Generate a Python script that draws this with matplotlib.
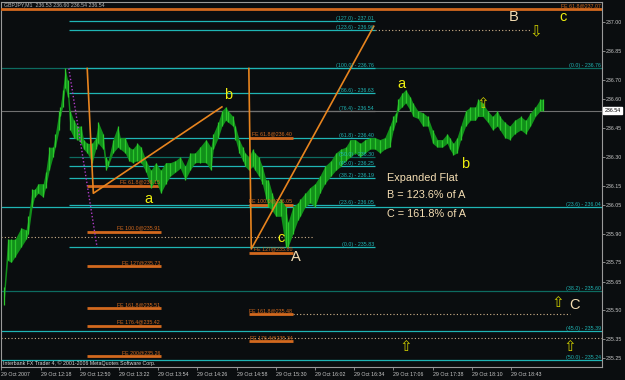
import matplotlib
matplotlib.use('Agg')
import matplotlib.pyplot as plt
import matplotlib.transforms as mtransforms

plt.rcParams['font.family'] = ['Liberation Sans', 'DejaVu Sans']

# GBPJPY M1, minutes after 11:46 on 29 Oct 2007
bar_min = [2, 5, 8, 11, 16, 20, 22, 25, 27, 30, 34, 36, 39, 42, 44, 47, 48, 50, 52, 54,
           56, 59, 62, 65, 67, 70, 74, 77, 79, 83, 85, 87, 91, 95, 97, 101, 104, 107, 111, 114,
           118, 122, 126, 130, 134, 138, 142, 146, 150, 154, 158, 162, 167, 171, 173, 177, 180, 183, 185, 189,
           191, 194, 197, 199, 202, 205, 207, 210, 213, 216, 218, 221, 224, 228, 232, 234, 238, 242, 244, 248,
           252, 256, 260, 264, 269, 273, 277, 281, 285, 289, 293, 297, 301, 305, 309, 313, 317, 320, 322, 324,
           327, 330, 334, 336, 340, 344, 348, 352, 356, 360, 364, 366, 369, 372, 375, 379, 383, 387, 389, 393,
           397, 401, 405, 407, 411, 415, 419, 424, 428, 432, 436, 440, 442]
bar_high = [235.62, 235.87, 235.87, 235.87, 235.93, 235.92, 235.99, 236.13, 236.13, 236.16, 236.16, 236.22, 236.35, 236.35, 236.42, 236.54, 236.56, 236.65, 236.76, 236.70,
            236.54, 236.49, 236.46, 236.46, 236.39, 236.37, 236.37, 236.40, 236.48, 236.42, 236.30, 236.28, 236.39, 236.46, 236.40, 236.40, 236.35, 236.34, 236.37, 236.35,
            236.28, 236.23, 236.27, 236.23, 236.27, 236.27, 236.28, 236.30, 236.25, 236.32, 236.32, 236.35, 236.39, 236.35, 236.42, 236.48, 236.54, 236.56, 236.54, 236.51,
            236.46, 236.39, 236.35, 236.32, 236.30, 236.34, 236.32, 236.30, 236.25, 236.18, 236.18, 236.11, 236.06, 236.08, 236.04, 235.96, 236.04, 236.06, 236.08, 236.11,
            236.14, 236.16, 236.20, 236.25, 236.28, 236.32, 236.34, 236.35, 236.39, 236.39, 236.37, 236.39, 236.40, 236.40, 236.39, 236.40, 236.46, 236.51, 236.53, 236.60,
            236.63, 236.65, 236.61, 236.58, 236.54, 236.53, 236.51, 236.44, 236.39, 236.39, 236.42, 236.40, 236.37, 236.40, 236.46, 236.54, 236.56, 236.56, 236.60, 236.58,
            236.54, 236.51, 236.54, 236.51, 236.48, 236.46, 236.49, 236.51, 236.49, 236.53, 236.56, 236.60, 236.60]
bar_low = [235.53, 235.76, 235.75, 235.78, 235.83, 235.87, 235.90, 236.04, 236.09, 236.11, 236.09, 236.14, 236.23, 236.30, 236.35, 236.44, 236.51, 236.56, 236.66, 236.61,
           236.44, 236.40, 236.39, 236.37, 236.34, 236.32, 236.27, 236.34, 236.37, 236.34, 236.23, 236.25, 236.32, 236.35, 236.34, 236.32, 236.28, 236.27, 236.28, 236.27,
           236.22, 236.14, 236.18, 236.11, 236.16, 236.20, 236.22, 236.24, 236.18, 236.23, 236.27, 236.27, 236.27, 236.23, 236.34, 236.40, 236.46, 236.49, 236.48, 236.46,
           236.39, 236.32, 236.28, 236.25, 236.23, 236.25, 236.23, 236.20, 236.16, 236.08, 236.04, 236.02, 235.99, 235.99, 235.83, 235.83, 235.90, 235.97, 235.99, 236.04,
           236.06, 236.04, 236.11, 236.16, 236.20, 236.23, 236.25, 236.28, 236.30, 236.32, 236.30, 236.32, 236.34, 236.34, 236.32, 236.34, 236.35, 236.44, 236.48, 236.54,
           236.56, 236.58, 236.54, 236.51, 236.50, 236.46, 236.46, 236.37, 236.35, 236.35, 236.37, 236.34, 236.31, 236.32, 236.39, 236.46, 236.49, 236.49, 236.51, 236.51,
           236.48, 236.44, 236.46, 236.44, 236.40, 236.39, 236.42, 236.44, 236.42, 236.46, 236.51, 236.54, 236.54]
bid = 236.54

# fibonacci retracement (left) and its extension (right)
fib_l_names = ['127.0', '123.6', '100.0', '86.6', '76.4', '61.8', '50.0', '45.0', '38.2', '23.6', '0.0']
fib_l_prices = [237.01, 236.96, 236.76, 236.63, 236.54, 236.40, 236.30, 236.25, 236.19, 236.05, 235.83]
fib_r_names = ['0.0', '23.6', '38.2', '45.0', '50.0']
fib_r_prices = [236.76, 236.04, 235.60, 235.39, 235.24]

# fibonacci expansions
fe1_names = ['61.8', '100.0', '127', '161.8', '176.4', '200']
fe1_prices = [236.15, 235.91, 235.73, 235.51, 235.42, 235.26]
fe2_names = ['61.8', '100.0', '127', '161.8', '176.4']
fe2_prices = [236.40, 236.05, 235.80, 235.48, 235.34]
fe_top_name, fe_top_price = '61.8', 237.07

# trend lines (time, price)
w1_t, w1_p = [70, 75, 180], [236.76, 236.11, 236.56]
w2_t, w2_p = [202, 204, 304], [236.76, 235.82, 236.98]
purple_t, purple_p = [55, 78], [236.76, 235.83]

time_ticks = [0, 32, 64, 96, 128, 160, 192, 224, 256, 288, 320, 352, 384, 416]
time_labels = ['29 Oct 2007', '29 Oct 12:18', '29 Oct 12:50', '29 Oct 13:22', '29 Oct 13:54',
               '29 Oct 14:26', '29 Oct 14:58', '29 Oct 15:30', '29 Oct 16:02', '29 Oct 16:34',
               '29 Oct 17:06', '29 Oct 17:38', '29 Oct 18:10', '29 Oct 18:43']
price_ticks = [237.00, 236.85, 236.70, 236.60, 236.45, 236.30, 236.15, 236.05, 235.90,
               235.75, 235.65, 235.50, 235.35, 235.25]

bg = '#0a0d0f'
cyan = '#1fb5b5'
dimcyan = '#0d6b60'
orange = '#d2691e'
orange_line = '#e8841e'
tan = '#d2b48c'
wheat = '#f5deb3'
yellow = '#eeee10'
olive = '#cccc00'
small = 3.8

fig = plt.figure(figsize=(6.25, 3.8), dpi=100, facecolor=bg)
ax = fig.add_axes([1.5 / 625, 1 - 367 / 380, 600.5 / 625, 365.5 / 380], facecolor=bg)
XMAX = 490.4
ax.set_xlim(0, XMAX)
ax.set_ylim(235.205, 237.109)
for s in ax.spines.values():
    s.set_color('#9a9a9a')
    s.set_linewidth(0.8)

# full-width lines of the right fib
for name, p in zip(fib_r_names, fib_r_prices):
    col = dimcyan if name in ('0.0', '38.2') else cyan
    ax.axhline(p, color=col, lw=0.9, zorder=1)
    ax.text(XMAX - 1, p, '(%s) - %.2f' % (name, p), color=cyan, fontsize=small,
            ha='right', va='bottom', zorder=5)

# bid line
ax.axhline(bid, color='#707070', lw=0.8, zorder=1)

# left fib
for name, p in zip(fib_l_names, fib_l_prices):
    col = dimcyan if name == '50.0' else cyan
    if name == '76.4':
        col = '#707070'
    ax.hlines(p, 55, 305, color=col, lw=0.9, zorder=2)
    ax.text(304, p, '(%s) - %.2f' % (name, p), color=cyan, fontsize=small,
            ha='right', va='bottom', zorder=5)

# dotted lines
ax.hlines(235.88, 0, 254, color=tan, lw=0.8, linestyles=(0, (1, 2)), zorder=2)
ax.hlines(236.96, 305, 432, color=tan, lw=0.8, linestyles=(0, (1, 2)), zorder=2)
ax.hlines(235.48, 238, 464, color=tan, lw=0.8, linestyles=(0, (1, 2)), zorder=2)
ax.axhline(235.355, color=tan, lw=0.8, linestyle=(0, (1, 2)), zorder=2)

# fibonacci expansions
ax.axhline(fe_top_price, color=orange, lw=2, zorder=3)
ax.text(XMAX - 1, fe_top_price + 0.005, 'FE %s@%.2f' % (fe_top_name, fe_top_price),
        color=orange, fontsize=small, ha='right', va='bottom', zorder=5)
for names, prices, t0, t1 in [(fe1_names, fe1_prices, 70, 130), (fe2_names, fe2_prices, 202, 238)]:
    for name, p in zip(names, prices):
        ax.hlines(p, t0, t1, color=orange, lw=2, zorder=3)
        ax.text(t1 - 0.5, p + 0.006, 'FE %s@%.2f' % (name, p), color=orange,
                fontsize=small, ha='right', va='bottom', zorder=5)

# price bars
ax.fill_between(bar_min, bar_low, bar_high, color='#11901a', lw=0, zorder=4)
ax.vlines(bar_min, bar_low, bar_high, color='#2cc62c', lw=0.9, zorder=4)

# wave lines
ax.plot(w1_t, w1_p, color=orange_line, lw=1.2, zorder=4)
ax.plot(w2_t, w2_p, color=orange_line, lw=1.2, zorder=4)
ax.plot(purple_t, purple_p, color='#b03cc8', lw=1.0, ls=(0, (1, 1.5)), zorder=4)

# wave labels
letters = [('a', 120, 236.08, yellow), ('b', 185, 236.62, yellow), ('c', 228, 235.875, yellow),
           ('A', 240, 235.78, wheat), ('a', 327, 236.68, yellow), ('b', 379, 236.26, yellow),
           ('B', 418, 237.03, wheat), ('c', 459, 237.03, yellow), ('C', 468, 235.53, wheat)]
for s, t, p, c in letters:
    ax.text(t, p, s, color=c, fontsize=10.5, ha='center', va='center', zorder=6)

for s, t, p in [('\u21e9', 436, 236.95), ('\u21e7', 393, 236.58), ('\u21e7', 454, 235.54),
                ('\u21e7', 330, 235.31), ('\u21e7', 464, 235.31)]:
    ax.text(t, p, s, color=olive, fontsize=11, ha='center', va='center',
            family='DejaVu Sans', zorder=6)

ax.text(315, 236.19, 'Expanded Flat', color=wheat, fontsize=7.8, va='center', zorder=6)
ax.text(315, 236.10, 'B = 123.6% of A', color=wheat, fontsize=7.8, va='center', zorder=6)
ax.text(315, 236.00, 'C = 161.8% of A', color=wheat, fontsize=7.8, va='center', zorder=6)

ax.text(0.004, 0.997, 'GBPJPY,M1  236.53 236.60 236.54 236.54', transform=ax.transAxes,
        color='#b8b8b8', fontsize=small, ha='left', va='top', zorder=6)
ax.text(0.003, 0.004, 'Interbank FX Trader 4, \u00a9 2001-2006 MetaQuotes Software Corp.',
        transform=ax.transAxes, color='#d8d8d8', fontsize=small, ha='left', va='bottom', zorder=6)

# axes
ax.yaxis.tick_right()
ax.set_yticks(price_ticks)
ax.set_yticklabels(['%.2f' % v for v in price_ticks])
ax.tick_params(axis='y', direction='out', length=2, width=0.6, color='#9a9a9a',
               labelsize=small, labelcolor='#c8c8c8', pad=1)
ax.set_xticks(time_ticks)
ax.set_xticklabels(time_labels)
ax.tick_params(axis='x', direction='out', length=2, width=0.6, color='#9a9a9a',
               labelsize=small, labelcolor='#c8c8c8', pad=1.5)
for lab in ax.get_xticklabels():
    lab.set_ha('left')

trans = mtransforms.blended_transform_factory(ax.transAxes, ax.transData)
ax.text(1.004, bid, '%.2f' % bid, transform=trans, color='black', fontsize=small,
        ha='left', va='center', zorder=7,
        bbox=dict(boxstyle='square,pad=0.2', fc='white', ec='white'), clip_on=False)

fig.savefig('out.png', dpi=100, facecolor=bg)
